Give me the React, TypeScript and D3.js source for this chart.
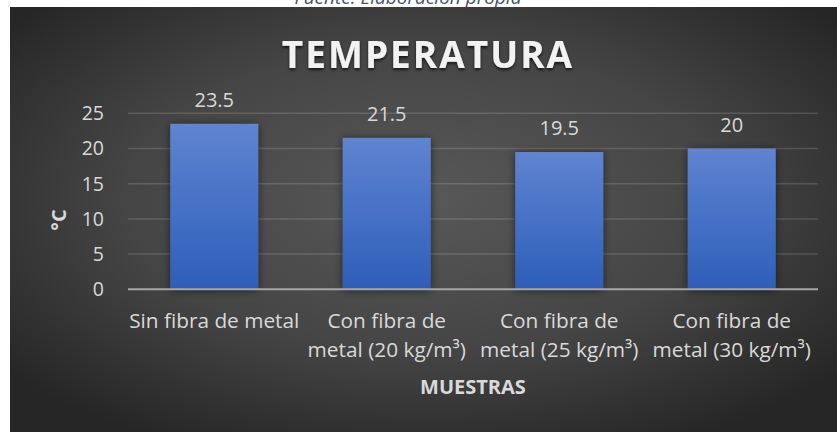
import React from "react";
import * as d3 from "d3";

// Chart values
const categories: string[] = [
  "Sin fibra de metal",
  "Con fibra de metal (20 kg/m³)",
  "Con fibra de metal (25 kg/m³)",
  "Con fibra de metal (30 kg/m³)",
];
const categoryLines: string[][] = [
  ["Sin fibra de metal"],
  ["Con fibra de", "metal (20 kg/m³)"],
  ["Con fibra de", "metal (25 kg/m³)"],
  ["Con fibra de", "metal (30 kg/m³)"],
];
const temperatures: number[] = [23.5, 21.5, 19.5, 20];
const yTicks: number[] = [0, 5, 10, 15, 20, 25];

const W = 837;
const H = 432;
const FONT = "'Open Sans', Lato, sans-serif";

export default function App() {
  const plotLeft = 128;
  const plotRight = 818;
  const plotTop = 113.3;
  const plotBottom = 289.3;

  const x = d3
    .scaleBand<string>()
    .domain(categories)
    .range([plotLeft, plotRight])
    .paddingInner(0.49)
    .paddingOuter(0.245);

  const y = d3.scaleLinear().domain([0, 25]).range([plotBottom, plotTop]);

  return (
    <svg
      width={W}
      height={H}
      style={{ position: "absolute", left: 0, top: 0, display: "block" }}
      fontFamily={FONT}
    >
      <defs>
        <radialGradient id="bg" cx="50%" cy="45%" r="65%">
          <stop offset="0%" stopColor="#585858" />
          <stop offset="55%" stopColor="#454545" />
          <stop offset="100%" stopColor="#262626" />
        </radialGradient>
        <linearGradient id="barFill" x1="0" y1="0" x2="0" y2="1">
          <stop offset="0%" stopColor="#5f84d0" />
          <stop offset="50%" stopColor="#4671c6" />
          <stop offset="100%" stopColor="#2e5eb8" />
        </linearGradient>
        <filter id="barShadow" x="-20%" y="-10%" width="140%" height="125%">
          <feGaussianBlur in="SourceAlpha" stdDeviation="4" />
          <feOffset dx="0" dy="1" result="blur" />
          <feComponentTransfer>
            <feFuncA type="linear" slope="0.55" />
          </feComponentTransfer>
          <feMerge>
            <feMergeNode />
            <feMergeNode in="SourceGraphic" />
          </feMerge>
        </filter>
        <filter id="titleShadow" x="-5%" y="-20%" width="110%" height="150%">
          <feGaussianBlur in="SourceAlpha" stdDeviation="1.5" />
          <feOffset dx="0" dy="2" />
          <feComponentTransfer>
            <feFuncA type="linear" slope="0.7" />
          </feComponentTransfer>
          <feMerge>
            <feMergeNode />
            <feMergeNode in="SourceGraphic" />
          </feMerge>
        </filter>
      </defs>

      <rect x={0} y={0} width={W} height={H} fill="#ffffff" />
      <text
        x={408}
        y={4}
        textAnchor="middle"
        fontStyle="italic"
        fontSize={19}
        fill="#44546a"
      >
        Fuente: Elaboración propia
      </text>

      <rect x={10} y={7} width={W - 10} height={H - 7} fill="url(#bg)" />

      <text
        x={428}
        y={68}
        textAnchor="middle"
        fontSize={37}
        fontWeight={700}
        letterSpacing={2}
        fill="#f2f2f2"
        filter="url(#titleShadow)"
      >
        TEMPERATURA
      </text>

      {/* gridlines */}
      {yTicks
        .filter((t) => t > 0)
        .map((t) => (
          <line
            key={t}
            x1={plotLeft}
            x2={plotRight}
            y1={y(t)}
            y2={y(t)}
            stroke="rgba(255,255,255,0.14)"
            strokeWidth={1.5}
          />
        ))}

      {/* y tick labels */}
      {yTicks.map((t) => (
        <text
          key={t}
          x={104}
          y={y(t)}
          dy="0.35em"
          textAnchor="end"
          fontSize={19.5}
          fill="#d9d9d9"
        >
          {t}
        </text>
      ))}

      {/* bars */}
      {categories.map((c, i) => (
        <rect
          key={c}
          x={x(c)}
          y={y(temperatures[i])}
          width={x.bandwidth()}
          height={y(0) - y(temperatures[i])}
          fill="url(#barFill)"
          filter="url(#barShadow)"
        />
      ))}

      {/* axis line */}
      <line
        x1={plotLeft}
        x2={plotRight}
        y1={y(0)}
        y2={y(0)}
        stroke="#a6a6a6"
        strokeWidth={2}
      />

      {/* value labels */}
      {categories.map((c, i) => (
        <text
          key={c}
          x={(x(c) ?? 0) + x.bandwidth() / 2}
          y={y(temperatures[i]) - 17}
          textAnchor="middle"
          fontSize={20}
          fill="#d9d9d9"
        >
          {temperatures[i]}
        </text>
      ))}

      {/* category labels */}
      {categories.map((c, i) => (
        <text
          key={c}
          x={(x(c) ?? 0) + x.bandwidth() / 2}
          textAnchor="middle"
          fontSize={20.8}
          fill="#d9d9d9"
        >
          {categoryLines[i].map((line, j) => (
            <tspan
              key={j}
              x={(x(c) ?? 0) + x.bandwidth() / 2}
              y={328 + j * 29}
            >
              {line}
            </tspan>
          ))}
        </text>
      ))}

      {/* axis titles */}
      <text
        x={473}
        y={394}
        textAnchor="middle"
        fontSize={20}
        fontWeight={700}
        fill="#d9d9d9"
      >
        MUESTRAS
      </text>
      <text
        transform="translate(66,220) rotate(-90)"
        textAnchor="middle"
        fontSize={20}
        fontWeight={700}
        fill="#d9d9d9"
      >
        °C
      </text>
    </svg>
  );
}
